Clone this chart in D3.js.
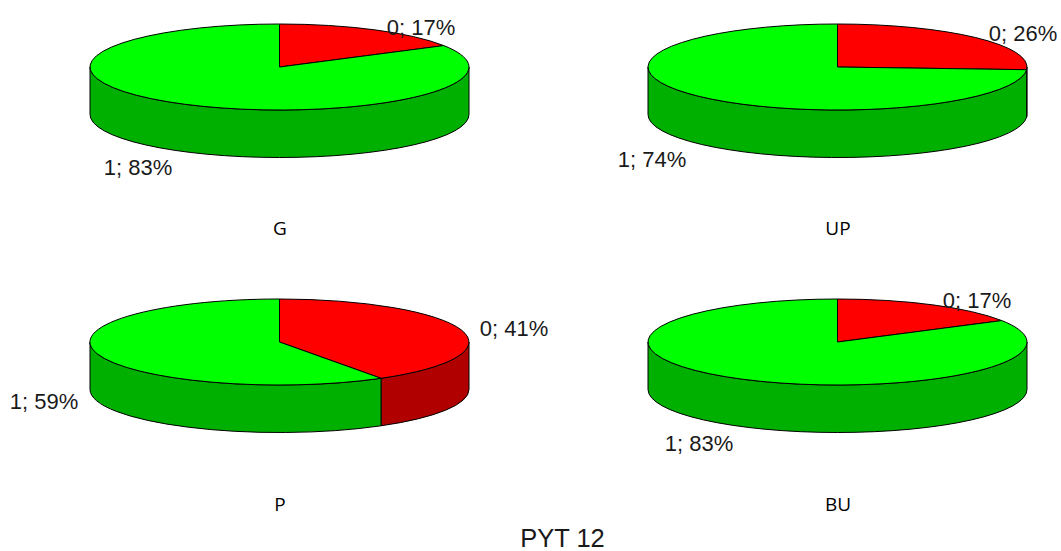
<!DOCTYPE html>
<html><head><meta charset="utf-8">
<style>html,body{margin:0;padding:0;background:#fff}svg{display:block}</style>
<script src="https://cdn.jsdelivr.net/npm/d3@7/dist/d3.min.js"></script>
</head><body><div id="c"></div>
<script>
const panels = ["G","UP","P","BU"];
const categories = ["0","1"];
const values0 = [16.7,26,41,16.7];
const values1 = [83.3,74,59,83.3];
const title = "PYT 12";
const colors = ["#ff0000","#00ff00"];
const sideColors = ["#b00000","#00b000"];
const cxs = [279.5,837.5,279.5,837.5];
const cys = [67,67,342,342];
const labelPos = [[[421,29.5],[138,169.5]],[[1023,35.5],[652,161.5]],[[514,330.5],[44,403.5]],[[977,302.5],[699,445.5]]];
const namePos = [[280,229.5],[838,229.5],[280,505.5],[838,505.5]];

const W=1061,H=551,rx=189.5,ry=43,depth=47.5;
const svg=d3.select("#c").append("svg").attr("width",W).attr("height",H);
const pie=d3.pie().sort(null).value(d=>d);
const arc=d3.arc().innerRadius(0).outerRadius(1);
const pct=d3.format(".0f");
const px=(a,cx)=>cx+rx*Math.sin(a), py=(a,cy)=>cy-ry*Math.cos(a);

panels.forEach((name,i)=>{
  const cx=cxs[i],cy=cys[i];
  const g=svg.append("g");
  const arcs=pie([values0[i],values1[i]]);
  arcs.forEach((d,k)=>{
    const a0=Math.max(d.startAngle,Math.PI/2),a1=Math.min(d.endAngle,3*Math.PI/2);
    if(a1<=a0) return;
    const p=`M${px(a0,cx)},${py(a0,cy)}A${rx},${ry} 0 0 1 ${px(a1,cx)},${py(a1,cy)}`+
      `L${px(a1,cx)},${py(a1,cy)+depth}A${rx},${ry} 0 0 0 ${px(a0,cx)},${py(a0,cy)+depth}Z`;
    g.append("path").attr("d",p).attr("fill",sideColors[k]).attr("stroke","#000").attr("stroke-width",1);
  });
  arcs.forEach((d,k)=>{
    g.append("path").attr("d",arc(d))
      .attr("transform",`translate(${cx},${cy}) scale(${rx},${ry})`)
      .attr("fill",colors[k]).attr("stroke","#000").attr("stroke-width",1)
      .attr("vector-effect","non-scaling-stroke");
  });
  categories.forEach((c,k)=>{
    const v=k===0?values0[i]:values1[i];
    svg.append("text").attr("x",labelPos[i][k][0]).attr("y",labelPos[i][k][1])
      .attr("text-anchor","middle").attr("dominant-baseline","middle")
      .attr("font-family","Liberation Sans").attr("font-size",22).attr("fill","#1a1a1a")
      .text(`${c}; ${pct(v)}%`);
  });
  svg.append("text").attr("x",namePos[i][0]).attr("y",namePos[i][1])
    .attr("text-anchor","middle").attr("dominant-baseline","middle")
    .attr("font-family","Open Sans").attr("font-size",19).attr("fill","#000").text(name);
});
svg.append("text").attr("x",562.5).attr("y",547).attr("text-anchor","middle")
  .attr("font-family","Liberation Sans").attr("font-size",25.5).attr("fill","#1a1a1a").text(title);
</script></body></html>
